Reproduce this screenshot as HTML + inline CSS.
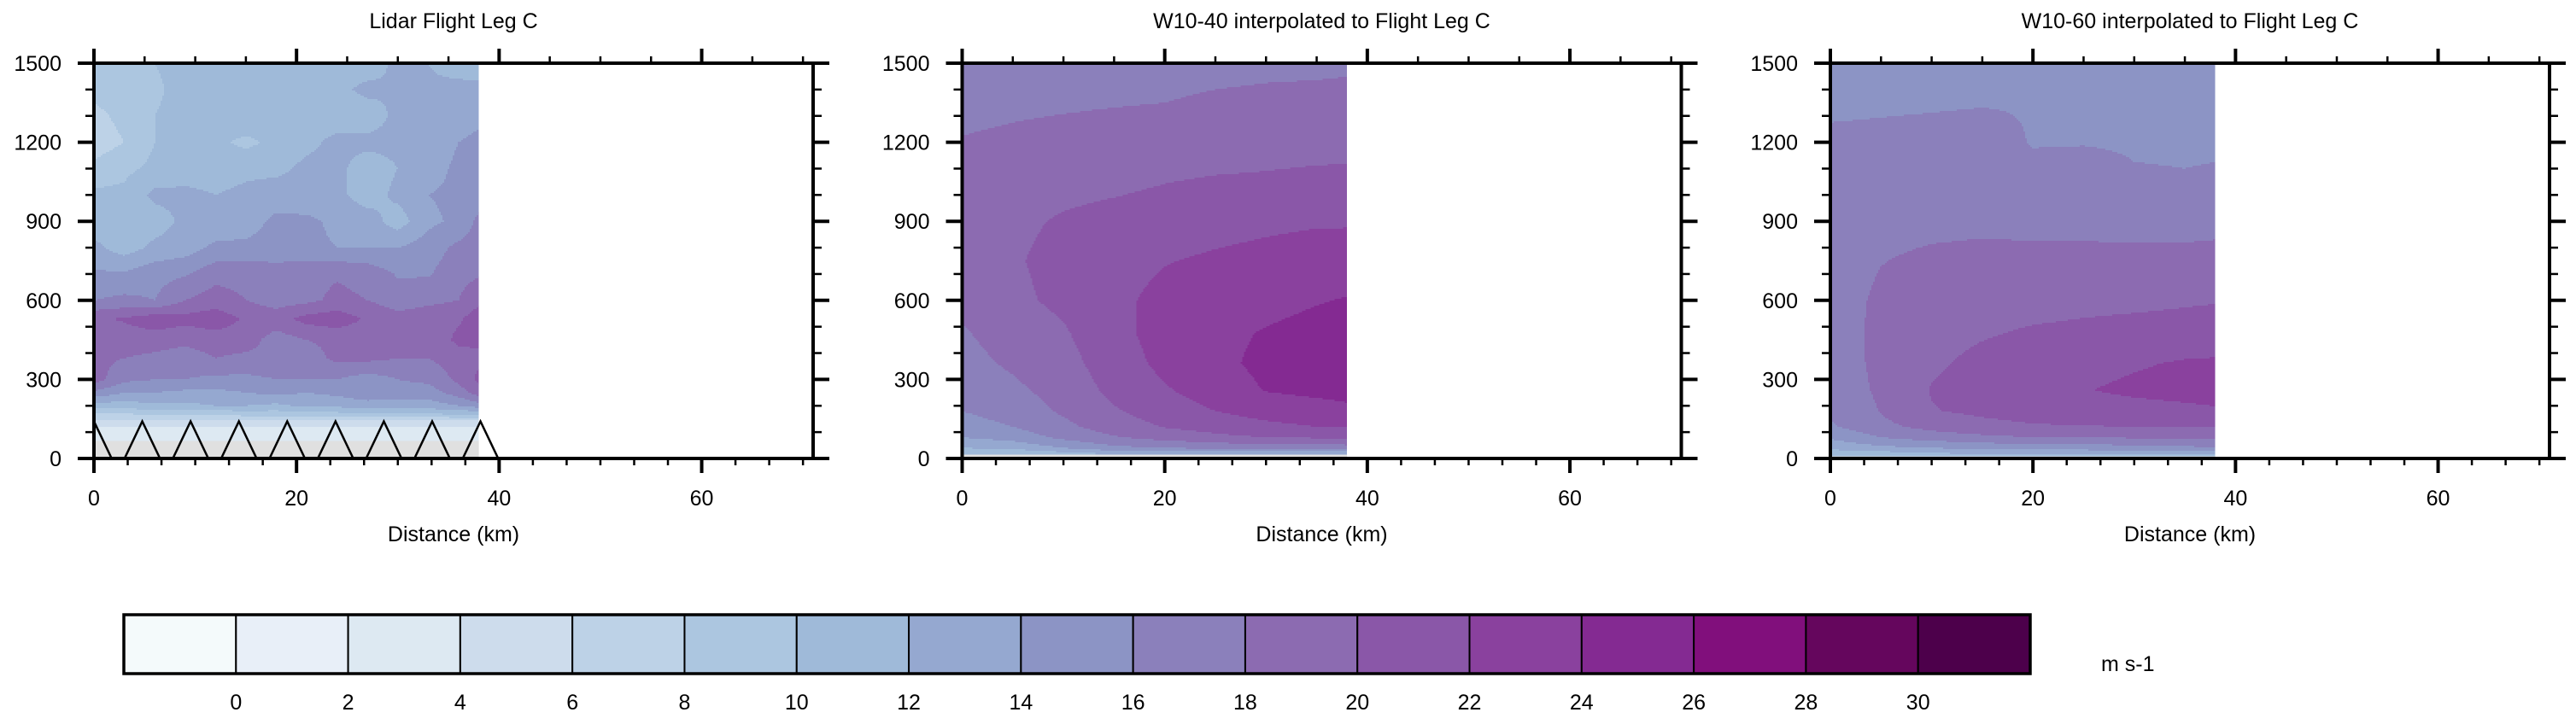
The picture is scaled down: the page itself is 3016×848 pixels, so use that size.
<!DOCTYPE html>
<html><head><meta charset="utf-8"><style>
html,body{margin:0;padding:0;background:#fff;}
svg text{font-family:"Liberation Sans",sans-serif;fill:#000;}
</style></head><body>
<svg id="chart" width="3016" height="843" viewBox="0 0 3016 843" xmlns="http://www.w3.org/2000/svg"></svg>
<script>
// ---- data ----
const levelBounds = [0,2,4,6,8,10,12,14,16,18,20,22,24,26,28,30];
const levelColors = ["#f4fafb","#e8eff8","#dde9f2","#cddcec","#bdd2e7","#acc6e0","#9fbad9","#95a8d0","#8c94c5","#8b80bb","#8c6bb1","#8a57a8","#8a419e","#842a92","#810f7c","#65065d","#4d004b"];
const panelTitles = ["Lidar Flight Leg C","W10-40 interpolated to Flight Leg C","W10-60 interpolated to Flight Leg C"];
const xTicks = [0,20,40,60];
const yTicks = [0,300,600,900,1200,1500];

// Lidar panel grid
const lidarDist = [0,3,6,9,12,15,18,21,24,27,30,33,36,38];
const lidarHeights = [70,110,140,170,200,250,300,380,450,530,600,700,800,900,1000,1100,1200,1300,1400,1500];
const lidarValues = [
 [3.5,3.5,3.5,3.5,3.5,3.5,3.5,3.5,3.5,3.5,3.5,3.5,3.5,3.5],
 [3.5,3.5,3.5,3.5,3.5,3.5,3.5,3.5,3.5,3.5,3.5,3.5,3.5,3.5],
 [5.5,5.5,5.5,5.5,5.5,5.5,5.5,5.5,5.5,5.5,5.5,5.5,5.5,5.5],
 [8,8,8.5,8.5,8.5,9,9,9.5,9.5,9.5,9.5,10,10.5,10.5],
 [11,11,11.5,11.5,12,12,11.5,12.5,12.5,13,13,13,14,15],
 [15.5,14,14,13.5,13.5,14,14.5,14,14.5,15.5,15,15,17,19],
 [19,16.5,16,16,15.5,15.5,16,16,16,15,16,16.5,18.5,20.5],
 [18.5,18,17.5,17,18,17.5,17.5,17,18.5,18.5,18,18,19,19.5],
 [18.5,19,19,18.5,19,19,17,18,18.5,18.5,19,18.5,20.5,20.5],
 [19.7,20.2,21.2,20.7,21.2,19.7,19.2,20.7,21.2,19.7,18.7,19.2,19.7,21.2],
 [16,16.5,16,18,19,18,17,17.5,18.5,18,17,17.5,18,19.5],
 [14.3,14.3,15.3,15.8,17.3,17.3,16.8,17.3,17.8,17.3,15.8,15.8,17.3,17.8],
 [12.5,11,12.5,13,14.5,14.5,15,14.5,14,14,14,15,16.5,17],
 [11,11,11,12.5,12.5,13,14.5,14.5,13.5,13,11,13.5,14.5,16.5],
 [10.5,10.5,12.5,12.5,12,12.5,13,12.5,12.5,11,12.5,14,14.5,15],
 [8.5,9.5,10.5,11,11,11.5,11.5,12.5,12.5,11,12,13,14.5,14.5],
 [7,8,10,11,10.5,9.5,10.5,11.5,12.5,12.5,12.5,12.5,14,14.5],
 [7.5,8.5,10,11,11,11.5,11.5,11.5,11,11,12.5,12.5,13,13.5],
 [8.5,9,9.5,11,11,11,11,11,11.5,12.5,12,12.5,13,13],
 [9,9.5,10,11,11,11,11,11,11,11,12.5,12,10.5,10]
];

// Model panels grid
const modelDist = [0,5,10,15,20,25,30,35,38];
const w40Heights = [17,40,80,120,180,260,360,480,600,750,900,1050,1200,1350,1500];
const w40Values = [
 [10,10,11,12,12,12,12,12,12],
 [12,12.5,14,15.5,16,16.5,17,17,17],
 [14,14.8,16.5,17.8,18.8,19.5,20,20.2,20.4],
 [15.2,16,17.5,19,20.1,20.8,21.5,22,22],
 [16,16.8,18.3,19.8,21,22,22.8,23.2,23.6],
 [16.8,17.6,18.8,20.5,21.8,23,24.1,24.5,24.6],
 [17.3,18.3,19.3,21,22.5,23.6,24.4,24.8,25],
 [17.8,19,19.8,21.4,22.8,23.6,24.1,24.5,24.7],
 [18.6,19.6,20.4,21.5,22.6,23.2,23.5,23.9,24.1],
 [19.2,19.8,20.6,21.2,21.9,22.3,22.6,22.9,23],
 [19,19.6,20.2,20.6,20.9,21.3,21.6,21.8,21.8],
 [18.6,19,19.4,19.6,19.95,20.2,20.3,20.5,20.5],
 [18.1,18.3,18.5,18.7,18.9,19,19.2,19.3,19.4],
 [17.5,17.7,17.8,17.9,18,18.2,18.3,18.4,18.4],
 [17,17.2,17.3,17.4,17.5,17.6,17.7,17.7,17.8]
];
const w60Heights = [10,40,80,120,180,260,360,480,600,750,900,1050,1200,1350,1500];
const w60Values = [
 [10,10,11,11,11,11,11,11,11],
 [12.5,13.5,14,14.5,15,15,15.2,15.5,16],
 [14.3,16,17,17.5,18,18,18.2,18.3,18.4],
 [15.7,17.5,18.6,19.4,19.8,19.9,20,20.1,20.1],
 [16.4,18.1,19.9,20.4,20.8,21,21.3,21.6,21.8],
 [16.9,18.3,20.1,20.8,21.2,21.9,22.4,22.6,22.7],
 [17.1,18.4,19.7,20.5,20.9,21.3,21.8,22.2,22.3],
 [17.2,18.4,19.3,19.8,20.2,20.4,20.6,20.7,20.8],
 [17.2,18.3,18.8,19.2,19.3,19.5,19.6,19.8,19.9],
 [17.2,17.95,18.3,18.4,18.4,18.5,18.6,18.7,18.8],
 [17.1,17.5,17.6,17.7,17.6,17.5,17.3,17.2,17.3],
 [16.9,17,17.2,17.3,16.6,16.5,16.1,16.05,16.1],
 [16.4,16.5,16.6,16.7,15.9,15.95,15.9,15.9,15.9],
 [15.6,15.7,15.8,15.9,15.9,15.8,15.8,15.8,15.8],
 [15.2,15.3,15.4,15.5,15.6,15.6,15.6,15.6,15.6]
];
const groundTop = [70,17,10];
const dataMaxDist = 38;
const triPeaks = [0,4.77,9.54,14.31,19.08,23.85,28.62,33.39,38.16];
const triHalf = 1.75, triHeight = 141;

// ---- layout ----
const NS = "http://www.w3.org/2000/svg";
const svg = document.getElementById("chart");
const panelLeft = [110,1126.5,2143], plotW = 842, plotTop = 74, plotBot = 537;
const xMax = 71, yMax = 1500;
function mk(tag, attrs, parent){ const e=document.createElementNS(NS,tag); for(const k in attrs) e.setAttribute(k,attrs[k]); (parent||svg).appendChild(e); return e; }
function xS(p,km){ return panelLeft[p] + km/xMax*plotW; }
function yS(h){ return plotBot - h/yMax*(plotBot-plotTop); }
function levelIdx(v){ let i=0; while(i<levelBounds.length && v>=levelBounds[i]) i++; return i; }
function interp1(arr,v){ if(v<=arr[0]) return [0,0]; for(let i=0;i<arr.length-1;i++){ if(v<=arr[i+1]) return [i,(v-arr[i])/(arr[i+1]-arr[i])]; } return [arr.length-2,1]; }
function sample(xs,hs,vals,x,h){ const [i,tx]=interp1(xs,x); const [j,ty]=interp1(hs,h);
  const v00=vals[j][i],v01=vals[j][i+1],v10=vals[j+1][i],v11=vals[j+1][i+1];
  return (v00*(1-tx)+v01*tx)*(1-ty)+(v10*(1-tx)+v11*tx)*ty; }

const grids = [[lidarDist,lidarHeights,lidarValues],[modelDist,w40Heights,w40Values],[modelDist,w60Heights,w60Values]];

for(let p=0;p<3;p++){
  const g = mk("g",{});
  
  
  const [xs,hs,vals] = grids[p];
  const x0 = xS(p,0), x1 = xS(p,dataMaxDist);
  const yTopData = yS(hs[hs.length-1]), yBotData = yS(hs[0]);
  const gr = mk("rect",{x:x0,y:yS(groundTop[p]),width:x1-x0,height:plotBot-yS(groundTop[p]),fill:"#e0e0e0"},g);
  
  
  const cg = mk("g",{"shape-rendering":"crispEdges"},g);
  
  
  const step = 2;
  const emit = (xa,xb,y,lev)=>{
    const r=mk("rect",{x:xa,y:y,width:xb-xa+0.6,height:step+0.6,fill:levelColors[lev]},cg);
    
    
  };
  for(let y=yTopData; y<yBotData; y+=step){
    const h = (plotBot-(y+step/2))/(plotBot-plotTop)*yMax;
    let runStart = x0, runLev = -1;
    for(let x=x0; x<x1; x+=step){
      const xc = Math.min(x+step/2, x1);
      const lev = levelIdx(sample(xs,hs,vals,(xc-x0)/(x1-x0)*dataMaxDist,h));
      if(lev!==runLev){
        if(runLev>=0) emit(runStart,x,y,runLev);
        runStart=x; runLev=lev;
      }
    }
    if(runLev>=0) emit(runStart,x1-0.6,y,runLev);
  }
  if(p===0){
    const cl = mk("clipPath",{id:"clip0"},g);
    mk("rect",{x:panelLeft[0],y:plotTop,width:plotW,height:plotBot-plotTop},cl);
    const tg = mk("g",{"clip-path":"url(#clip0)"},g);
    
    
    for(const pk of triPeaks){
      const t = mk("polyline",{points:`${xS(0,pk-triHalf)},${plotBot} ${xS(0,pk)},${yS(triHeight)} ${xS(0,pk+triHalf)},${plotBot}`,fill:"none",stroke:"#000","stroke-width":2.5},tg);
      
      
    }
  }
  const L=panelLeft[p], R=L+plotW;
  const fr = mk("rect",{x:L,y:plotTop,width:plotW,height:plotBot-plotTop,fill:"none",stroke:"#000","stroke-width":4},g);
  
  
  const tk = mk("g",{stroke:"#000"},g);
  
  
  for(let km=0; km<=xMax; km+=5){ const maj = km%20===0; const x=xS(p,km);
    mk("line",{x1:x,x2:x,y1:plotTop,y2:plotTop-(maj?17:8),"stroke-width":maj?4:2.5},tk); }
  for(let i=0;i*10/3<=xMax+0.01;i++){ const km=i*10/3; const maj=i%6===0; const x=xS(p,km);
    mk("line",{x1:x,x2:x,y1:plotBot,y2:plotBot+(maj?17:8),"stroke-width":maj?4:2.5},tk); }
  for(let h=0;h<=yMax;h+=100){ const maj=h%300===0; const y=yS(h);
    mk("line",{x1:L,x2:L-(maj?19:10),y1:y,y2:y,"stroke-width":maj?4:2.5},tk);
    mk("line",{x1:R,x2:R+(maj?19:10),y1:y,y2:y,"stroke-width":maj?4:2.5},tk); }
  for(const v of xTicks){ const t=mk("text",{x:xS(p,v),y:592,"font-size":25,"text-anchor":"middle"},g); t.textContent=v;
    
     }
  for(const v of yTicks){ const t=mk("text",{x:L-38,y:yS(v)+9,"font-size":25,"text-anchor":"end"},g); t.textContent=v;
    
     }
  const xt = mk("text",{x:L+plotW/2,y:634,"font-size":25,"text-anchor":"middle"},g); xt.textContent="Distance (km)";
  
  
  const tt = mk("text",{x:L+plotW/2,y:33,"font-size":25,"text-anchor":"middle"},g); tt.textContent=panelTitles[p];
  
  
}

// colorbar
const cbL=145, cbR=2377, cbT=720, cbB=789;
const cb = mk("g",{});


const bw=(cbR-cbL)/levelColors.length;
levelColors.forEach((c,i)=>{ const r=mk("rect",{x:cbL+i*bw,y:cbT,width:bw,height:cbB-cbT,fill:c,stroke:"#000","stroke-width":2},cb);
  
   });
mk("rect",{x:cbL,y:cbT,width:cbR-cbL,height:cbB-cbT,fill:"none",stroke:"#000","stroke-width":3.5},cb);
levelBounds.forEach((v,i)=>{ const t=mk("text",{x:cbL+(i+1)*bw,y:831,"font-size":25,"text-anchor":"middle"},cb); t.textContent=v;
  
   });
const un = mk("text",{x:2460,y:786,"font-size":25},cb); un.textContent="m s-1";


</script>
</body></html>
